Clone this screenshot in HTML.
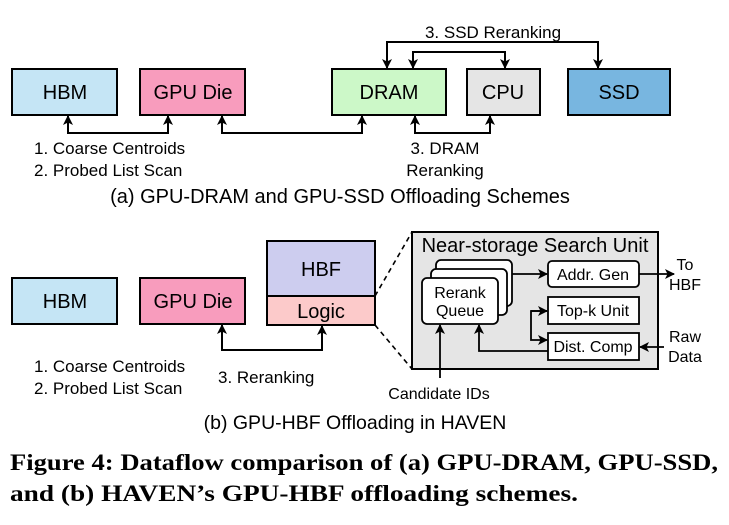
<!DOCTYPE html>
<html><head><style>body{margin:0;background:#fff}svg{display:block}</style></head><body>
<svg width="729" height="525" viewBox="0 0 729 525" xmlns="http://www.w3.org/2000/svg" font-family="Liberation Sans, sans-serif">
<defs><marker id="a" markerWidth="10" markerHeight="10" refX="9" refY="5" orient="auto-start-reverse" markerUnits="userSpaceOnUse"><path d="M0,0 L10,5 L0,10 L2.5,5 z" fill="#000"/></marker></defs>
<g stroke="#000" stroke-width="2">
<rect x="12" y="69" width="105" height="46" fill="#c5e5f5"/>
<rect x="140" y="69" width="105" height="46" fill="#f89cbd"/>
<rect x="332" y="69" width="114" height="46" fill="#ccf8c8"/>
<rect x="467" y="69" width="73" height="46" fill="#e5e5e5"/>
<rect x="568" y="69" width="102" height="46" fill="#78b6e0"/>
</g>
<g font-size="20" text-anchor="middle">
<text x="65" y="99">HBM</text><text x="193" y="99">GPU Die</text><text x="389" y="99">DRAM</text><text x="503" y="99">CPU</text><text x="619" y="99">SSD</text>
</g>
<g stroke="#000" stroke-width="2" fill="none">
<path d="M68,116 V133 H168 V116" marker-start="url(#a)" marker-end="url(#a)"/>
<path d="M222,116 V133 H362 V116" marker-start="url(#a)" marker-end="url(#a)"/>
<path d="M415,116 V133 H490 V116" marker-start="url(#a)" marker-end="url(#a)"/>
<path d="M387,68 V42 H598 V68" marker-start="url(#a)" marker-end="url(#a)"/>
<path d="M413,68 V52 H505 V68" marker-start="url(#a)" marker-end="url(#a)"/>
</g>
<g font-size="17">
<text x="34" y="154">1. Coarse Centroids</text><text x="34" y="176">2. Probed List Scan</text>
<text x="445" y="154" text-anchor="middle">3. DRAM</text><text x="445" y="176" text-anchor="middle">Reranking</text>
<text x="493" y="38" text-anchor="middle">3. SSD Reranking</text>
</g>
<text x="340" y="203" font-size="20" text-anchor="middle">(a) GPU-DRAM and GPU-SSD Offloading Schemes</text>

<g stroke="#000" stroke-width="2">
<rect x="12" y="278" width="105" height="46" fill="#c5e5f5"/>
<rect x="140" y="278" width="105" height="46" fill="#f89cbd"/>
<rect x="267" y="241" width="108" height="55" fill="#cdcdef"/>
<rect x="267" y="296" width="108" height="29" fill="#fccaca"/>
<rect x="412" y="232" width="246" height="137" fill="#e5e5e5"/>
</g>
<g font-size="20" text-anchor="middle">
<text x="65" y="308">HBM</text><text x="193" y="308">GPU Die</text><text x="321" y="276">HBF</text><text x="321" y="318">Logic</text>
</g>
<g stroke="#000" stroke-width="1.6" fill="none" stroke-dasharray="5,4">
<path d="M375,296 L412,232"/><path d="M375,325 L412,369"/>
</g>
<path d="M222,325 V350 H322 V326" stroke="#000" stroke-width="2" fill="none" marker-start="url(#a)" marker-end="url(#a)"/>
<g font-size="17">
<text x="34" y="372">1. Coarse Centroids</text><text x="34" y="394">2. Probed List Scan</text>
<text x="218" y="383">3. Reranking</text>
</g>
<text x="535" y="252" font-size="20" text-anchor="middle">Near-storage Search Unit</text>
<g stroke="#000" stroke-width="1.8" fill="#fff">
<rect x="436" y="260" width="76" height="46" rx="5"/>
<rect x="431" y="269" width="76" height="46" rx="5"/>
<rect x="422" y="278" width="76" height="46" rx="5"/>
<rect x="548" y="261" width="91" height="26" rx="4"/>
<rect x="548" y="297" width="91" height="27"/>
<rect x="548" y="333" width="91" height="27"/>
</g>
<g font-size="16" text-anchor="middle">
<text x="460" y="298">Rerank</text><text x="460" y="316">Queue</text>
<text x="593" y="280">Addr. Gen</text><text x="593" y="316">Top-k Unit</text><text x="593" y="352">Dist. Comp</text>
<text x="685" y="270">To</text><text x="685" y="290">HBF</text>
<text x="685" y="342">Raw</text><text x="685" y="362">Data</text>
<text x="439" y="399">Candidate IDs</text>
</g>
<g stroke="#000" stroke-width="1.8" fill="none">
<path d="M512,274 H547" marker-end="url(#a)"/>
<path d="M639,274 H674" marker-end="url(#a)"/>
<path d="M547,311 H531 V340 H547" marker-end="url(#a)"/>
<path d="M531,311 H547" marker-end="url(#a)"/>
<path d="M548,351 H479 V325" marker-end="url(#a)"/>
<path d="M440,378 V325" marker-end="url(#a)"/>
<path d="M664,347 H640" marker-end="url(#a)"/>
</g>
<text x="355" y="429" font-size="19.5" text-anchor="middle">(b) GPU-HBF Offloading in HAVEN</text>
<g font-family="Liberation Serif, serif" font-weight="bold" font-size="23">
<text x="10" y="470" textLength="708" lengthAdjust="spacingAndGlyphs">Figure 4: Dataflow comparison of (a) GPU-DRAM, GPU-SSD,</text>
<text x="10" y="501" textLength="568" lengthAdjust="spacingAndGlyphs">and (b) HAVEN’s GPU-HBF offloading schemes.</text>
</g>
</svg>
</body></html>
